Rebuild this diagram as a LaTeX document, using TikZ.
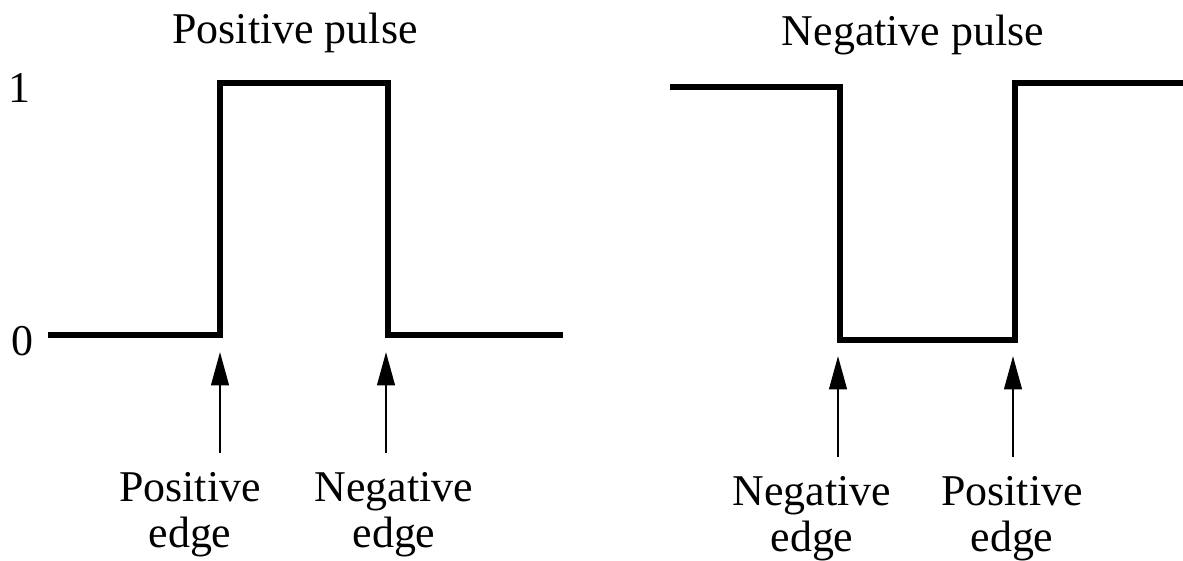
\documentclass[tikz,border=0pt]{standalone}
\usepackage{fontspec}
\setmainfont{Liberation Serif}
\usetikzlibrary{arrows.meta, positioning}
\tikzset{
  every picture/.style={x=0.02cm, y=-0.02cm},
  wave/.style={line width=3.2pt, line join=miter, line cap=butt},
  arrow/.style={-{Triangle[length=19pt, width=10pt]}, line width=1.5pt},
  title/.style={font=\fontsize{25}{25}\selectfont, inner sep=0pt, anchor=base},
  note/.style={font=\fontsize{25}{26}\selectfont, align=center, inner sep=0pt, anchor=north},
}
\begin{document}
\begin{tikzpicture}
  \useasboundingbox (0,0) rectangle (1183,561);
  % levels
  \node[title] (one) at (19,102) {1};
  \node[title] (zero) at (22,355) {0};
  % positive pulse
  \node[title] (ptitle) at (295,43) {Positive pulse};
  \draw[wave] (48,335) -- (220,335) -- (220,83) -- (388,83) -- (388,335) -- (563,335);
  \coordinate (pp1) at (220,453);
  \coordinate (pp2) at (386,453);
  \draw[arrow] (pp1) -- ++(0,-101);
  \draw[arrow] (pp2) -- ++(0,-101);
  \node[note] (pplbl1) at (190,472) {Positive\\edge};
  \node[note] (pplbl2) at (394,472) {Negative\\edge};
  % negative pulse
  \node[title] (ntitle) at (913,45) {Negative pulse};
  \draw[wave] (670,87) -- (840,87) -- (840,340) -- (1015,340) -- (1015,83) -- (1183,83);
  \coordinate (np1) at (838,457);
  \coordinate (np2) at (1013,457);
  \draw[arrow] (np1) -- ++(0,-101);
  \draw[arrow] (np2) -- ++(0,-101);
  \node[note] (nplbl1) at (812,476) {Negative\\edge};
  \node[note] (nplbl2) at (1012,476) {Positive\\edge};
\end{tikzpicture}
\end{document}
